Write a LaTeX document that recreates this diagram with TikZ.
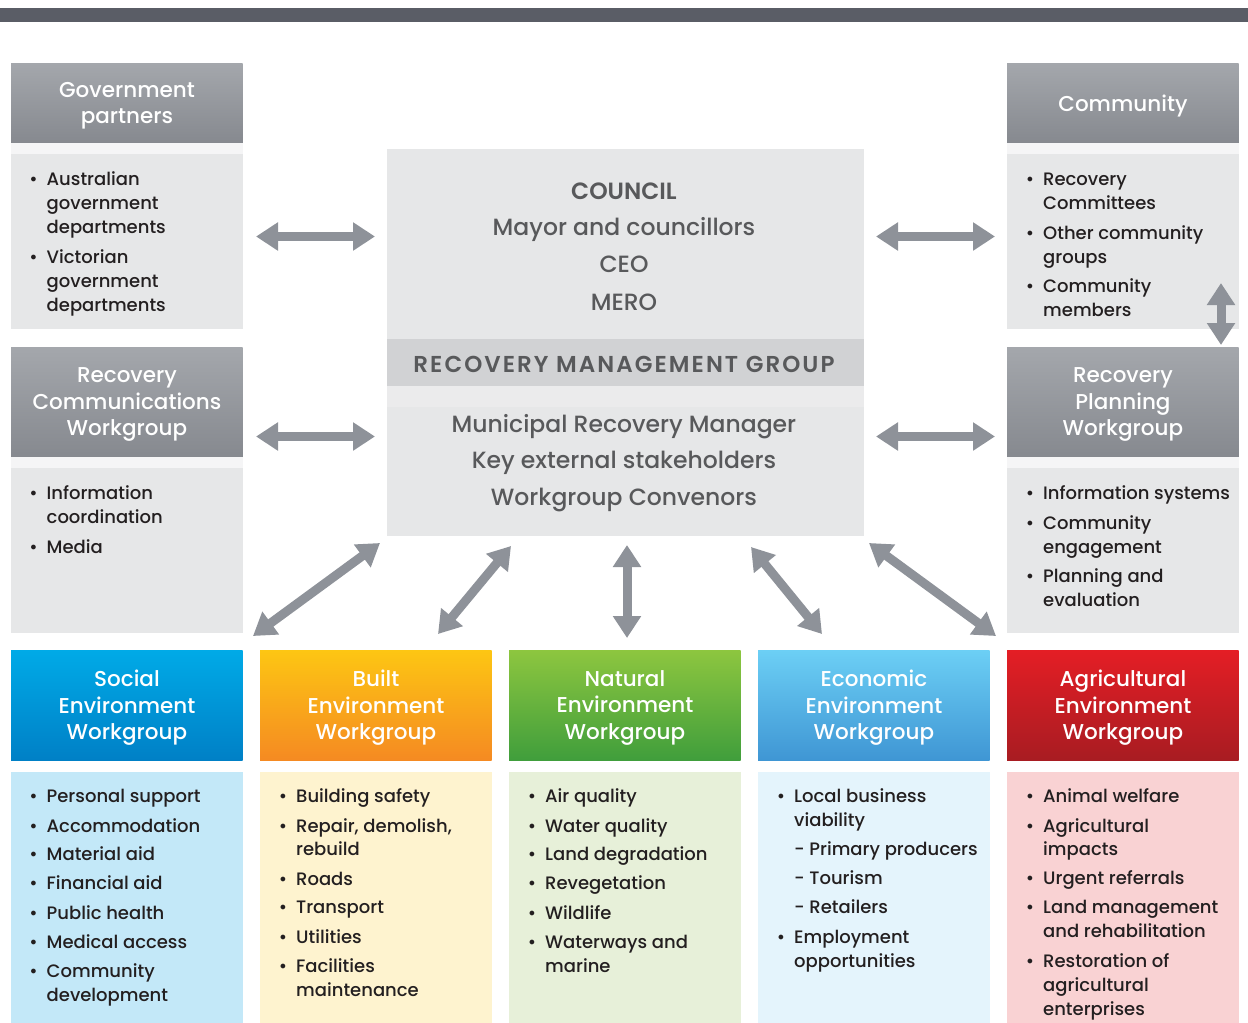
\documentclass[tikz,border=0pt]{standalone}
\usepackage{fontspec}
\setmainfont{Poppins}[UprightFont=* Medium, BoldFont=* SemiBold]
\usetikzlibrary{arrows.meta}
\definecolor{barc}{HTML}{5A5D66}
\definecolor{hgtop}{HTML}{A4A7AC}
\definecolor{hgbot}{HTML}{86898F}
\definecolor{gbody}{HTML}{E6E7E8}
\definecolor{gstrip}{HTML}{F5F5F6}
\definecolor{cband}{HTML}{D1D2D4}
\definecolor{clight}{HTML}{EBEBEC}
\definecolor{ctext}{HTML}{58595B}
\definecolor{btext}{HTML}{231F20}
\definecolor{arrc}{HTML}{8E9299}
\definecolor{soctop}{HTML}{00AAE7}
\definecolor{socbot}{HTML}{0080C6}
\definecolor{soclt}{HTML}{C3E8F8}
\definecolor{bultop}{HTML}{FDC613}
\definecolor{bulbot}{HTML}{F58A22}
\definecolor{bullt}{HTML}{FEF3CF}
\definecolor{nattop}{HTML}{8DC63F}
\definecolor{natbot}{HTML}{409E3C}
\definecolor{natlt}{HTML}{E7F0D9}
\definecolor{ecotop}{HTML}{6CCFF5}
\definecolor{ecobot}{HTML}{3F96D4}
\definecolor{ecolt}{HTML}{E4F4FC}
\definecolor{agrtop}{HTML}{E41E25}
\definecolor{agrbot}{HTML}{A81C22}
\definecolor{agrlt}{HTML}{F9D2D3}
\newcommand\bu{\llap{\textbullet\hspace{9pt}}}
\newcommand\li[4]{\node[itm] (#1) at (#2,#3) {#4};}
% name, x, y, height, top colour, bottom colour, text
\newcommand\hd[7]{%
  \node[hdr, minimum height=#4pt, top color=#5, bottom color=#6] (#1) at (#2,#3) {};
  \node[htxt] (#1-t) at ([yshift=-2.5pt]#1.center) {#7};}
\begin{document}
\begin{tikzpicture}[x=1pt,y=-1pt,
  hdr/.style={inner sep=0pt, anchor=north west, minimum width=231.5pt},
  htxt/.style={inner sep=0pt, text=white, align=center, font=\fontsize{21.5}{26.6}\selectfont},
  itm/.style={inner sep=0pt, anchor=base west, text=btext, font=\fontsize{18}{22}\selectfont},
  ctr/.style={inner sep=0pt, anchor=base, text=ctext, font=\fontsize{23.5}{26}\selectfont},
  arr/.style={draw=arrc, line width=9pt, {Triangle[length=22pt,width=27pt]}-{Triangle[length=22pt,width=27pt]}}
]
\useasboundingbox (0,0) rectangle (1248,1023);
\fill[barc] (0,8) rectangle (1248,21.5);

% ---------- left / right grey columns
\hd{gov}{11}{63}{80}{hgtop}{hgbot}{Government\\partners}
\fill[gstrip] (11,143) rectangle (242.5,154);
\fill[gbody] (11,154) rectangle (242.5,329);
\hd{com}{1007}{63}{80}{hgtop}{hgbot}{Community}
\fill[gstrip] (1007,143) rectangle (1238.5,154);
\fill[gbody] (1007,154) rectangle (1238.5,329);
\hd{rcw}{11}{347}{110}{hgtop}{hgbot}{Recovery\\Communications\\Workgroup}
\fill[gstrip] (11,457) rectangle (242.5,468);
\fill[gbody] (11,468) rectangle (242.5,633);
\hd{rpw}{1007}{347}{110}{hgtop}{hgbot}{Recovery\\Planning\\Workgroup}
\fill[gstrip] (1007,457) rectangle (1238.5,468);
\fill[gbody] (1007,468) rectangle (1238.5,633);

\li{g1}{46.5}{185}{\bu Australian}
\li{g2}{46.5}{209}{government}
\li{g3}{46.5}{233}{departments}
\li{g4}{46.5}{263}{\bu Victorian}
\li{g5}{46.5}{287}{government}
\li{g6}{46.5}{311}{departments}

\li{c1}{1043}{185}{\bu Recovery}
\li{c2}{1043}{209}{Committees}
\li{c3}{1043}{239}{\bu Other community}
\li{c4}{1043}{263}{groups}
\li{c5}{1043}{292}{\bu Community}
\li{c6}{1043}{316}{members}

\li{m1}{46.5}{499}{\bu Information}
\li{m2}{46.5}{523}{coordination}
\li{m3}{46.5}{553}{\bu Media}

\li{p1}{1043}{499}{\bu Information systems}
\li{p2}{1043}{529}{\bu Community}
\li{p3}{1043}{553}{engagement}
\li{p4}{1043}{582}{\bu Planning and}
\li{p5}{1043}{606}{evaluation}

% ---------- centre box
\fill[gbody] (386.5,149) rectangle (863.5,536);
\fill[cband] (386.5,339) rectangle (863.5,386);
\fill[clight] (386.5,386) rectangle (863.5,407);
\node[ctr, font=\fontsize{23.5}{26}\selectfont\bfseries] (council) at (624,199) {COUNCIL};
\node[ctr] (mayor) at (624,235) {Mayor and councillors};
\node[ctr] (ceo) at (624,272) {CEO};
\node[ctr] (mero) at (624,310) {MERO};
\node[ctr, font=\fontsize{23}{26}\selectfont\bfseries\addfontfeatures{LetterSpace=9}] (rmg) at (624,372) {RECOVERY MANAGEMENT GROUP};
\node[ctr] (mrm) at (624,432) {Municipal Recovery Manager};
\node[ctr] (kes) at (624,468) {Key external stakeholders};
\node[ctr] (wgc) at (624,505) {Workgroup Convenors};

% ---------- bottom workgroups
\hd{soc}{11}{650}{110}{soctop}{socbot}{Social\\Environment\\Workgroup}
\fill[soclt] (11,771.5) rectangle (242.5,1023);
\hd{bui}{260}{650}{110}{bultop}{bulbot}{Built\\Environment\\Workgroup}
\fill[bullt] (260,771.5) rectangle (491.5,1023);
\hd{nat}{509}{650}{110}{nattop}{natbot}{Natural\\Environment\\Workgroup}
\fill[natlt] (509,771.5) rectangle (740.5,1023);
\hd{eco}{758}{650}{110}{ecotop}{ecobot}{Economic\\Environment\\Workgroup}
\fill[ecolt] (758,771.5) rectangle (989.5,1023);
\hd{agr}{1007}{650}{110}{agrtop}{agrbot}{Agricultural\\Environment\\Workgroup}
\fill[agrlt] (1007,771.5) rectangle (1238.5,1023);

\li{s1}{46.5}{802}{\bu Personal support}
\li{s2}{46.5}{832}{\bu Accommodation}
\li{s3}{46.5}{860}{\bu Material aid}
\li{s4}{46.5}{889}{\bu Financial aid}
\li{s5}{46.5}{919}{\bu Public health}
\li{s6}{46.5}{948}{\bu Medical access}
\li{s7}{46.5}{977}{\bu Community}
\li{s8}{46.5}{1001}{development}

\li{b1}{296}{802}{\bu Building safety}
\li{b2}{296}{832}{\bu Repair, demolish,}
\li{b3}{296}{855}{rebuild}
\li{b4}{296}{885}{\bu Roads}
\li{b5}{296}{913}{\bu Transport}
\li{b6}{296}{943}{\bu Utilities}
\li{b7}{296}{972}{\bu Facilities}
\li{b8}{296}{996}{maintenance}

\li{n1}{545}{802}{\bu Air quality}
\li{n2}{545}{832}{\bu Water quality}
\li{n3}{545}{860}{\bu Land degradation}
\li{n4}{545}{889}{\bu Revegetation}
\li{n5}{545}{919}{\bu Wildlife}
\li{n6}{545}{948}{\bu Waterways and}
\li{n7}{545}{972}{marine}

\li{e1}{794}{802}{\bu Local business}
\li{e2}{794}{826}{viability}
\li{e3}{794}{855}{- Primary producers}
\li{e4}{794}{884}{- Tourism}
\li{e5}{794}{913}{- Retailers}
\li{e6}{794}{943}{\bu Employment}
\li{e7}{794}{967}{opportunities}

\li{a1}{1043}{802}{\bu Animal welfare}
\li{a2}{1043}{832}{\bu Agricultural}
\li{a3}{1043}{855}{impacts}
\li{a4}{1043}{884}{\bu Urgent referrals}
\li{a5}{1043}{913}{\bu Land management}
\li{a6}{1043}{937}{and rehabilitation}
\li{a7}{1043}{967}{\bu Restoration of}
\li{a8}{1043}{991}{agricultural}
\li{a9}{1043}{1015}{enterprises}

% ---------- arrow end points
\coordinate (hl1a) at (256,236.5); \coordinate (hl1b) at (375,236.5);
\coordinate (hl2a) at (256,436.5); \coordinate (hl2b) at (375,436.5);
\coordinate (hr1a) at (876,236.5); \coordinate (hr1b) at (995,236.5);
\coordinate (hr2a) at (876,436.5); \coordinate (hr2b) at (995,436.5);
\coordinate (va) at (1221,283); \coordinate (vb) at (1221,345);
\coordinate (d1a) at (380,543); \coordinate (d1b) at (253,636);
\coordinate (d2a) at (511,546); \coordinate (d2b) at (438,634);
\coordinate (d3a) at (627,545); \coordinate (d3b) at (627,638);
\coordinate (d4a) at (751,547); \coordinate (d4b) at (822,634);
\coordinate (d5a) at (869,543); \coordinate (d5b) at (996,636);

\draw[arr] (hl1a) -- (hl1b);
\draw[arr] (hl2a) -- (hl2b);
\draw[arr] (hr1a) -- (hr1b);
\draw[arr] (hr2a) -- (hr2b);
\draw[arr] (va) -- (vb);
\draw[arr] (d1a) -- (d1b);
\draw[arr] (d2a) -- (d2b);
\draw[arr] (d3a) -- (d3b);
\draw[arr] (d4a) -- (d4b);
\draw[arr] (d5a) -- (d5b);
\end{tikzpicture}
\end{document}
